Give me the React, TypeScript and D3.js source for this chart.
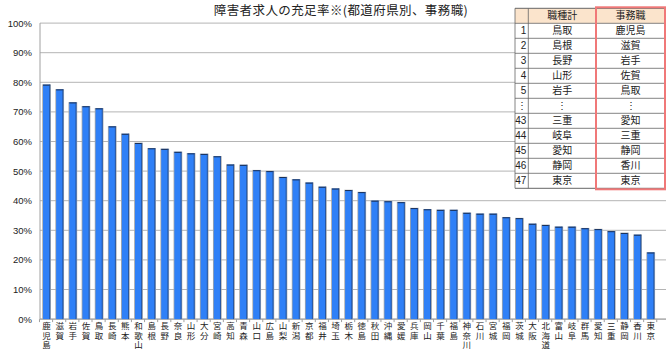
import React from "react";
import * as d3 from "d3";

const prefectures = [
  "鹿児島", "滋賀", "岩手", "佐賀", "鳥取", "長崎", "熊本", "和歌山", "島根", "長野",
  "奈良", "山形", "大分", "宮崎", "高知", "青森", "山口", "広島", "山梨", "新潟",
  "京都", "福井", "埼玉", "栃木", "徳島", "秋田", "沖縄", "愛媛", "兵庫", "岡山",
  "千葉", "福島", "神奈川", "石川", "宮城", "福岡", "茨城", "大阪", "北海道", "富山",
  "岐阜", "群馬", "愛知", "三重", "静岡", "香川", "東京",
];

const rates = [
  79.2, 77.6, 73.2, 71.9, 71.2, 65.1, 62.6, 59.5, 57.7, 57.5,
  56.5, 56.0, 55.8, 55.0, 52.2, 52.1, 50.3, 50.0, 48.0, 47.2,
  46.1, 44.7, 44.1, 43.6, 42.9, 40.0, 39.8, 39.5, 37.5, 37.1,
  36.9, 36.9, 35.9, 35.6, 35.6, 34.4, 34.1, 32.2, 31.8, 31.2,
  31.2, 30.7, 30.4, 29.7, 29.1, 28.5, 22.5,
];

const yTicks = [0, 10, 20, 30, 40, 50, 60, 70, 80, 90, 100];

const title = "障害者求人の充足率※(都道府県別、事務職)";

const tableHeader = ["", "職種計", "事務職"];
const tableRanks = ["1", "2", "3", "4", "5", "⋮", "43", "44", "45", "46", "47"];
const tableTotal = ["鳥取", "島根", "長野", "山形", "岩手", "⋮", "三重", "岐阜", "愛知", "静岡", "東京"];
const tableClerical = ["鹿児島", "滋賀", "岩手", "佐賀", "鳥取", "⋮", "愛知", "三重", "静岡", "香川", "東京"];

const W = 671;
const H = 356;
const plotLeft = 40;
const plotRight = 666;
const bandRight = 657.3;
const plotTop = 23.1;
const plotBottom = 319.1;

const jpFont = "'Noto Sans CJK JP', 'Noto Sans', sans-serif";
const numFont = "'Liberation Sans', Arial, sans-serif";

export default function App() {
  const x = d3
    .scaleBand<string>()
    .domain(prefectures)
    .range([plotLeft, bandRight])
    .paddingInner(0.46)
    .paddingOuter(0.23);
  const y = d3.scaleLinear().domain([0, 100]).range([plotBottom, plotTop]);

  const tX = [515, 528.3, 596, 665];
  const tTop = 8.3;
  const rowH = 15;
  const rows = tableRanks.length + 1;

  return (
    <svg width={W} height={H} style={{ position: "absolute", left: 0, top: 0, background: "#fff" }}>
      <rect x={0} y={0} width={W} height={H} fill="#fff" />
      {/* gridlines */}
      {yTicks.map((t) => (
        <line key={"g" + t} x1={plotLeft} x2={plotRight} y1={y(t)} y2={y(t)} stroke="#b4b4b4" strokeWidth={1} />
      ))}
      {/* y tick labels */}
      {yTicks.map((t) => (
        <text key={"yl" + t} x={32} y={y(t) + 3.5} textAnchor="end" fontFamily={numFont} fontSize={9.5} fill="#222">
          {t + "%"}
        </text>
      ))}
      {/* axes */}
      <line x1={plotLeft} x2={plotLeft} y1={plotTop} y2={plotBottom} stroke="#a0a0a0" />
      <line x1={plotLeft} x2={plotRight} y1={plotBottom} y2={plotBottom} stroke="#a0a0a0" />
      {d3.range(prefectures.length + 1).map((i) => {
        const xt = (x(prefectures[0]) as number) - x.step() * 0.27 + i * x.step();
        return <line key={"tk" + i} x1={xt} x2={xt} y1={plotBottom} y2={plotBottom + 3} stroke="#a0a0a0" />;
      })}
      {/* bars */}
      {prefectures.map((p, i) => {
        const bx = x(p) as number;
        const bw = x.bandwidth();
        const by = y(rates[i]);
        const bh = plotBottom - by;
        return (
          <g key={"b" + p}>
            <rect x={bx - 0.8} y={by - 0.3} width={bw + 1.6} height={bh + 0.3} fill="#a8a8a8" />
            <rect x={bx} y={by} width={bw} height={bh} fill="#2f80f7" />
            <line x1={bx} x2={bx + bw} y1={by + 0.5} y2={by + 0.5} stroke="#1a2f55" strokeWidth={1} />
            <line x1={bx + bw - 0.4} x2={bx + bw - 0.4} y1={by} y2={plotBottom} stroke="#234a8a" strokeWidth={0.8} />
          </g>
        );
      })}
      {/* x labels vertical */}
      {prefectures.map((p) => {
        const cx = (x(p) as number) + x.bandwidth() / 2;
        return (
          <text
            key={"xl" + p}
            x={cx}
            y={322}
            fontFamily={jpFont}
            fontSize={8.5}
            fill="#222"
            style={{ writingMode: "vertical-rl", letterSpacing: "1px" }}
          >
            {p}
          </text>
        );
      })}
      {/* title */}
      <text x={341} y={15} textAnchor="middle" fontFamily={jpFont} fontSize={12.5} fill="#222" style={{ letterSpacing: "0.4px" }}>
        {title}
      </text>
      {/* table */}
      <rect x={tX[0]} y={tTop} width={tX[3] - tX[0]} height={rows * rowH} fill="#fff" />
      <rect x={tX[0]} y={tTop} width={tX[3] - tX[0]} height={rowH} fill="#fbe4cc" />
      {d3.range(rows + 1).map((r) => (
        <line key={"tr" + r} x1={tX[0]} x2={tX[3]} y1={tTop + r * rowH} y2={tTop + r * rowH} stroke="#666" strokeWidth={r === 0 || r === rows ? 1 : 0.8} />
      ))}
      {tX.map((cx, c) => (
        <line key={"tc" + c} x1={cx} x2={cx} y1={tTop} y2={tTop + rows * rowH} stroke="#666" strokeWidth={0.8} />
      ))}
      {tableHeader.map((h, c) =>
        h ? (
          <text key={"th" + c} x={(tX[c] + tX[c + 1]) / 2} y={tTop + rowH / 2 + 3.6} textAnchor="middle" fontFamily={jpFont} fontSize={10} fill="#222">
            {h}
          </text>
        ) : null
      )}
      {tableRanks.map((r, i) => {
        const cy = tTop + (i + 1) * rowH + rowH / 2 + 3.6;
        return (
          <g key={"row" + i}>
            {r === "⋮" ? (
              <text x={(tX[0] + tX[1]) / 2} y={cy} textAnchor="middle" fontFamily={jpFont} fontSize={10} fill="#222">
                {r}
              </text>
            ) : (
              <text x={tX[1] - 2} y={cy} textAnchor="end" fontFamily={numFont} fontSize={10} fill="#222">
                {r}
              </text>
            )}
            <text x={(tX[1] + tX[2]) / 2} y={cy} textAnchor="middle" fontFamily={jpFont} fontSize={10} fill="#222">
              {tableTotal[i]}
            </text>
            <text x={(tX[2] + tX[3]) / 2} y={cy} textAnchor="middle" fontFamily={jpFont} fontSize={10} fill="#222">
              {tableClerical[i]}
            </text>
          </g>
        );
      })}
      <rect x={tX[2]} y={tTop - 1} width={tX[3] - tX[2]} height={rows * rowH + 2} fill="none" stroke="#f07878" strokeWidth={2} />
    </svg>
  );
}
